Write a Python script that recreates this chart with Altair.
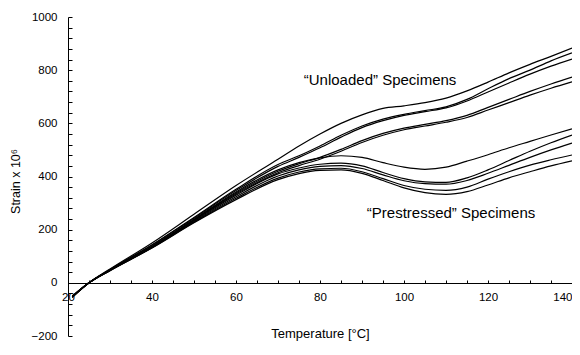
import altair as alt
import pandas as pd

temps = [21, 25, 30, 40, 50, 60, 70, 75, 80, 85, 90, 95, 100, 105, 110, 115, 120, 125, 130, 135, 140]

u1 = [-55, 0, 52, 150, 258, 366, 465, 515, 560, 600, 632, 656, 666, 678, 695, 722, 755, 790, 822, 852, 883]
u2 = [-54, 0, 50, 143, 246, 352, 445, 478, 515, 555, 590, 616, 634, 648, 662, 690, 730, 768, 800, 835, 865]
u3 = [-54, 0, 49, 141, 243, 347, 438, 472, 508, 548, 584, 610, 630, 644, 658, 684, 718, 752, 785, 815, 842]
u4 = [-53, 0, 48, 137, 238, 338, 420, 448, 472, 502, 535, 562, 582, 596, 610, 630, 660, 690, 720, 748, 774]
u5 = [-53, 0, 48, 136, 236, 334, 414, 441, 465, 495, 528, 555, 576, 590, 604, 622, 650, 678, 706, 732, 756]

p1 = [-52, 0, 48, 137, 238, 342, 425, 452, 470, 478, 472, 452, 435, 427, 435, 458, 482, 508, 532, 556, 579]
p2 = [-52, 0, 47, 135, 234, 330, 410, 432, 446, 450, 440, 415, 392, 380, 378, 395, 425, 460, 495, 527, 556]
p3 = [-51, 0, 47, 133, 231, 324, 402, 425, 438, 441, 430, 406, 384, 373, 371, 385, 412, 442, 472, 500, 526]
p4 = [-51, 0, 46, 132, 228, 318, 394, 417, 429, 431, 418, 392, 366, 352, 348, 360, 390, 418, 443, 463, 481]
p5 = [-50, 0, 46, 131, 226, 313, 388, 411, 423, 425, 412, 385, 357, 339, 333, 343, 368, 395, 418, 440, 459]

series = {"U1": u1, "U2": u2, "U3": u3, "U4": u4, "U5": u5,
          "P1": p1, "P2": p2, "P3": p3, "P4": p4, "P5": p5}

x_ticks = list(range(20, 141, 5))
y_ticks = list(range(-200, 1001, 40))

notes = ["\u201cUnloaded\u201d Specimens", "\u201cPrestressed\u201d Specimens"]
note_t = [94.3, 111.2]
note_s = [764, 263]

rows = []
for name, vals in series.items():
    for t, v in zip(temps, vals):
        rows.append({"curve": name, "T": t, "S": v})
df = pd.DataFrame(rows)
notes_df = pd.DataFrame({"text": notes, "T": note_t, "S": note_s})

FONT = "Liberation Sans"

x_scale = alt.Scale(domain=[20, 140], nice=False, zero=False)
y_scale = alt.Scale(domain=[-200, 1000], nice=False)

x_axis = alt.Axis(
    values=x_ticks, offset=-53, title="Temperature [\u00b0C]",
    labelExpr="datum.value % 20 == 0 ? datum.label : ''",
    labelAlign={"condition": {"test": "datum.value >= 140", "value": "right"}, "value": "center"},
    tickSize={"expr": "-3"}, labelPadding=11, grid=False,
    labelOverlap=False, labelBound=False, labelFlush=False,
    domainColor="black", tickColor="black", labelColor="black",
    labelFont=FONT, labelFontSize=11.5, titleFont=FONT, titleFontSize=13,
    titleFontWeight="normal", titleColor="black", titleY=44)
y_axis = alt.Axis(
    values=y_ticks, title="Strain x 10\u2076",
    labelExpr="datum.value % 200 == 0 ? datum.label : ''",
    tickSize={"expr": "-4"}, labelPadding=15, grid=False,
    labelOverlap=False, labelBound=False, labelFlush=False,
    domainColor="black", tickColor="black", labelColor="black",
    labelFont=FONT, labelFontSize=11.5, titleFont=FONT, titleFontSize=12.5,
    titleFontWeight="normal", titleColor="black", titleX=-46, titleY=164,
    format="d")

lines = alt.Chart(df).mark_line(color="black", strokeWidth=1.2, interpolate="monotone").encode(
    x=alt.X("T:Q", scale=x_scale, axis=x_axis),
    y=alt.Y("S:Q", scale=y_scale, axis=y_axis),
    detail="curve:N",
)

text = alt.Chart(notes_df).mark_text(font=FONT, fontSize=15, color="black").encode(
    x=alt.X("T:Q", scale=x_scale, axis=x_axis),
    y=alt.Y("S:Q", scale=y_scale, axis=y_axis),
    text="text:N",
)

chart = alt.layer(lines, text).properties(
    width=504, height=319,
    autosize="none",
    background="white",
    padding={"left": 60, "top": 9, "right": 0, "bottom": 7},
).configure_view(stroke=None)

chart.save("out.html", embed_options={"renderer": "svg", "actions": False})
